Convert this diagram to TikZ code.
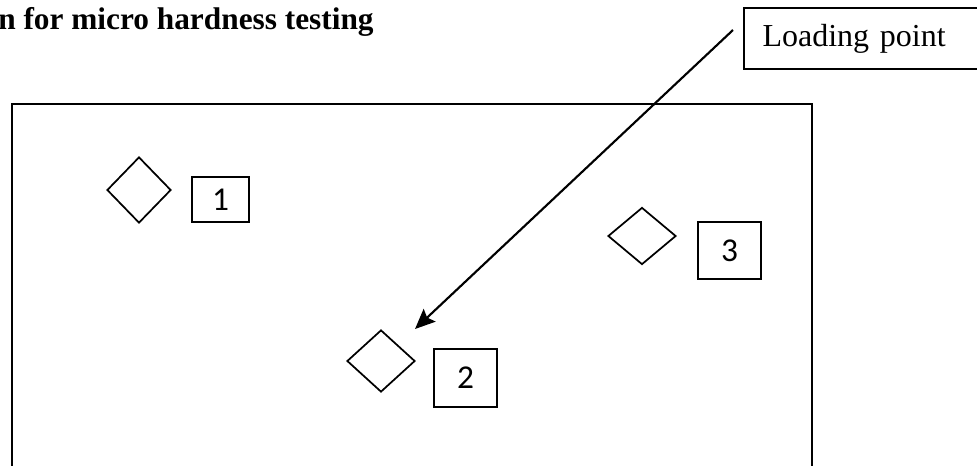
\documentclass[tikz,border=0pt]{standalone}
\usepackage{fontspec}
\setmainfont{Liberation Serif}
\newfontfamily\labelfont{Carlito}
\usetikzlibrary{shapes.geometric,arrows.meta}

\tikzset{
  frame/.style={line width=1.6pt},
  indent/.style={diamond, draw, line width=1.3pt, inner sep=0pt, aspect=1},
  pointbox/.style={draw, line width=1.4pt, inner sep=0pt,
                   font=\labelfont\fontsize{25}{30}\selectfont},
  pointer/.style={line width=1.6pt, -{Stealth[length=15pt,width=13pt,inset=2.5pt]}}
}

\begin{document}
\begin{tikzpicture}[x=0.75pt,y=-0.75pt]
  \useasboundingbox (0,0) rectangle (977,465);
  \clip (0,0) rectangle (977,465);

  % heading
  \node (title) [anchor=base west, inner sep=0pt,
        font=\fontsize{23.5}{28}\selectfont\bfseries] at (-2,29)
        {n for micro hardness testing};

  % specimen outline (open at the bottom)
  \coordinate (fbl) at (12,480);
  \coordinate (ftl) at (12,104);
  \coordinate (ftr) at (812,104);
  \coordinate (fbr) at (812,480);
  \draw[frame] (fbl) -- (ftl) -- (ftr) -- (fbr);

  % label for the loading point
  \node (lp) [draw, line width=1.3pt, anchor=north west, minimum height=45.75pt,
        text width=200pt, inner xsep=14pt, align=left,
        font=\fontsize{24}{28}\selectfont] at (743,7) {Loading point};

  % indentations
  \node (d1) [indent, minimum width=48pt, minimum height=49.5pt] at (139,190) {};
  \node (d2) [indent, minimum width=51pt, minimum height=46.5pt] at (381,361) {};
  \node (d3) [indent, minimum width=51pt, minimum height=42.75pt] at (642,236) {};

  % indentation numbers
  \node (n1) [pointbox, minimum width=42.75pt, minimum height=33.75pt] at (220.5,199.5) {1};
  \node (n2) [pointbox, minimum width=47.25pt, minimum height=43.5pt] at (465.5,378) {2};
  \node (n3) [pointbox, minimum width=47.25pt, minimum height=42.75pt] at (729.5,250.5) {3};

  % arrow to the loading point
  \coordinate (astart) at (733,30);
  \coordinate (aend) at (415,329);
  \draw[pointer] (astart) -- (aend);
\end{tikzpicture}
\end{document}
